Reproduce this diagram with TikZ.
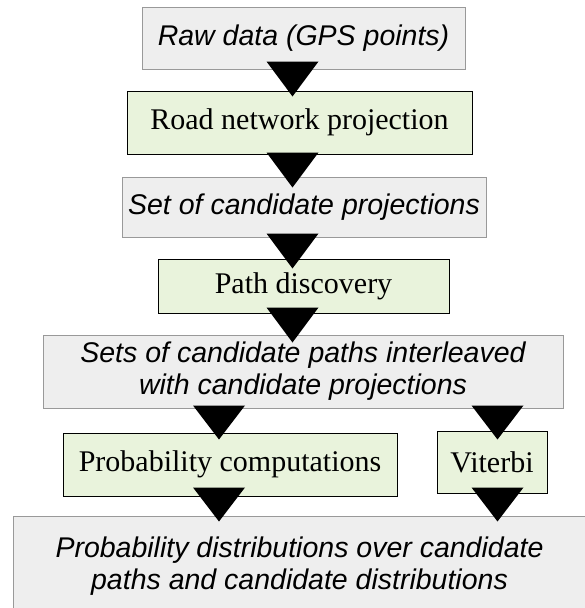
\documentclass[tikz,border=0pt]{standalone}
\usepackage{fontspec}
\setmainfont{Liberation Serif}
\setsansfont{Liberation Sans}
\usetikzlibrary{calc}
\definecolor{grayfill}{HTML}{EEEEEE}
\definecolor{grayline}{HTML}{999999}
\definecolor{greenfill}{HTML}{E9F3DC}
\tikzset{
  databox/.style={draw=grayline, fill=grayfill, line width=1pt, inner sep=0pt,
    align=center, font=\sffamily\itshape\fontsize{28.5}{32}\selectfont},
  procbox/.style={draw=black, fill=greenfill, line width=1pt, inner sep=0pt,
    align=center, font=\rmfamily\fontsize{30}{33}\selectfont},
  trifill/.style={fill=black}
}
\newcommand\flowtri[5]{%
  \fill[trifill] ($(#2.south -| #1)+(-26,-#4)$) -- ($(#2.south -| #1)+(26,-#4)$)
    -- ($(#3.north -| #1)+(0,#5)$) -- cycle;}
\begin{document}
\begin{tikzpicture}[x=1pt,y=-1pt]
\useasboundingbox (0,0) rectangle (585,608);
\node[databox, minimum width=323pt, minimum height=62pt] (B1) at (303.5,38) {Raw data (GPS points)};
\node[procbox, minimum width=345pt, minimum height=63pt] (B2) at (299.5,122.5) {Road network projection};
\node[databox, minimum width=364pt, minimum height=60pt] (B3) at (304,207) {Set of candidate projections};
\node[procbox, minimum width=291pt, minimum height=54pt] (B4) at (303.5,286) {Path discovery};
\node[databox, minimum width=520pt, minimum height=73pt] (B5) at (303,371.5) {Sets of candidate paths interleaved\\with candidate projections};
\node[procbox, minimum width=334pt, minimum height=63pt] (B6) at (230,464.5) {Probability computations};
\node[procbox, minimum width=110pt, minimum height=62pt] (B7) at (492,462) {Viterbi};
\node[databox, minimum width=573pt, minimum height=100pt] (B8) at (299.5,566) {Probability distributions over candidate\\paths and candidate distributions};
\coordinate (cm) at (292.5,0);
\coordinate (cl) at (219,0);
\coordinate (cr) at (497.5,0);
\flowtri{cm}{B1}{B2}{8}{6}
\flowtri{cm}{B2}{B3}{2}{11}
\flowtri{cm}{B3}{B4}{4}{10}
\flowtri{cm}{B4}{B5}{6}{8}
\flowtri{cl}{B5}{B6}{3}{7}
\flowtri{cr}{B5}{B7}{3}{9}
\flowtri{cl}{B6}{B8}{9}{6}
\flowtri{cr}{B7}{B8}{6}{6}
\end{tikzpicture}
\end{document}
